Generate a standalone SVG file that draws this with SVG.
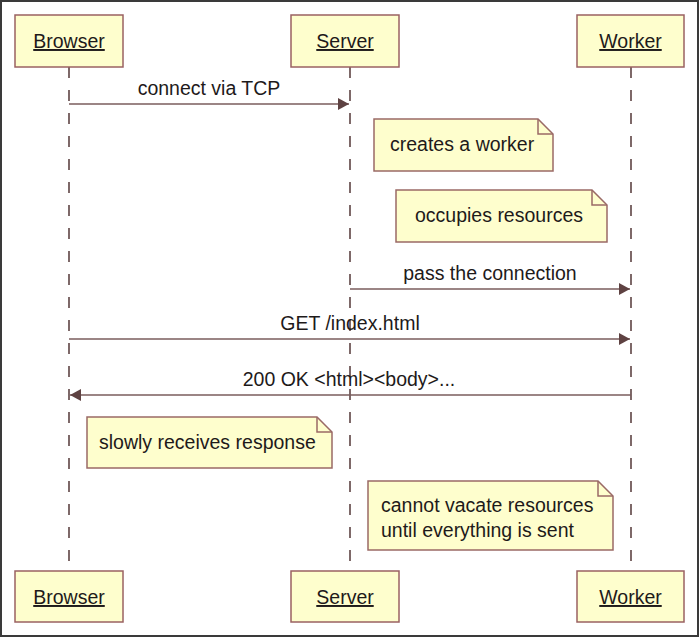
<svg xmlns="http://www.w3.org/2000/svg" width="700" height="638" viewBox="0 0 700 638">
<style>
.frame{fill:#ffffff;stroke:#3a3a3a;stroke-width:2}
.box{fill:#fefecd;stroke:#9a6262;stroke-width:1.5}
.note{fill:#fefecd;stroke:#9a6a66;stroke-width:1.5}
.fold{fill:none;stroke:#9a6a66;stroke-width:1.5}
.life{stroke:#5e4444;stroke-width:1.6;stroke-dasharray:11,12;fill:none}
.msg{stroke:#7a5c5c;stroke-width:1.5;fill:none}
text{font-family:"Liberation Sans",Arial,sans-serif;font-size:19.5px;fill:#1e1a1a}
.name{text-decoration:underline}
.c{text-anchor:middle}
</style>
<defs>
<marker id="ah" markerWidth="12" markerHeight="12" refX="11" refY="6" orient="auto" markerUnits="userSpaceOnUse">
<path d="M0,0 L11,6 L0,12 Z" fill="#5e4242"/>
</marker>
</defs>
<rect class="frame" x="1" y="1" width="697" height="635"/>
<g id="lifelines">
<line class="life" x1="69" y1="67" x2="69" y2="571"/>
<line class="life" x1="350" y1="67" x2="350" y2="571"/>
<line class="life" x1="631" y1="67" x2="631" y2="571"/>
</g>
<g id="browser-top"><rect class="box" x="15" y="15" width="108" height="52"/><text class="c name" x="69" y="48">Browser</text></g>
<g id="server-top"><rect class="box" x="291" y="15" width="108" height="52"/><text class="c name" x="345" y="48">Server</text></g>
<g id="worker-top"><rect class="box" x="577" y="15" width="107" height="52"/><text class="c name" x="630.5" y="48">Worker</text></g>
<g id="browser-bottom"><rect class="box" x="15" y="571" width="108" height="51"/><text class="c name" x="69" y="604">Browser</text></g>
<g id="server-bottom"><rect class="box" x="291" y="571" width="108" height="51"/><text class="c name" x="345" y="604">Server</text></g>
<g id="worker-bottom"><rect class="box" x="577" y="571" width="107" height="51"/><text class="c name" x="630.5" y="604">Worker</text></g>
<g id="connectors">
<line class="msg" x1="69" y1="104" x2="349" y2="104" marker-end="url(#ah)"/>
<text class="c" x="209" y="95">connect via TCP</text>
<line class="msg" x1="350" y1="289" x2="630" y2="289" marker-end="url(#ah)"/>
<text class="c" x="490" y="280">pass the connection</text>
<line class="msg" x1="69" y1="339" x2="630" y2="339" marker-end="url(#ah)"/>
<text class="c" x="350" y="330">GET /index.html</text>
<line class="msg" x1="631" y1="395" x2="70" y2="395" marker-end="url(#ah)"/>
<text class="c" x="349" y="386">200 OK &lt;html&gt;&lt;body&gt;...</text>
</g>
<g id="note-creates">
<path class="note" d="M374,119 H538 L553,134 V171 H374 Z"/><path class="fold" d="M538,119 V134 H553"/>
<text x="390" y="151">creates a worker</text>
</g>
<g id="note-occupies">
<path class="note" d="M396,190 H592 L607,205 V242 H396 Z"/><path class="fold" d="M592,190 V205 H607"/>
<text x="415" y="222">occupies resources</text>
</g>
<g id="note-slowly">
<path class="note" d="M87,417 H317 L332,432 V468 H87 Z"/><path class="fold" d="M317,417 V432 H332"/>
<text x="99" y="449">slowly receives response</text>
</g>
<g id="note-cannot">
<path class="note" d="M368,481 H598 L613,496 V550 H368 Z"/><path class="fold" d="M598,481 V496 H613"/>
<text x="381" y="512">cannot vacate resources</text>
<text x="381" y="537">until everything is sent</text>
</g>
</svg>
